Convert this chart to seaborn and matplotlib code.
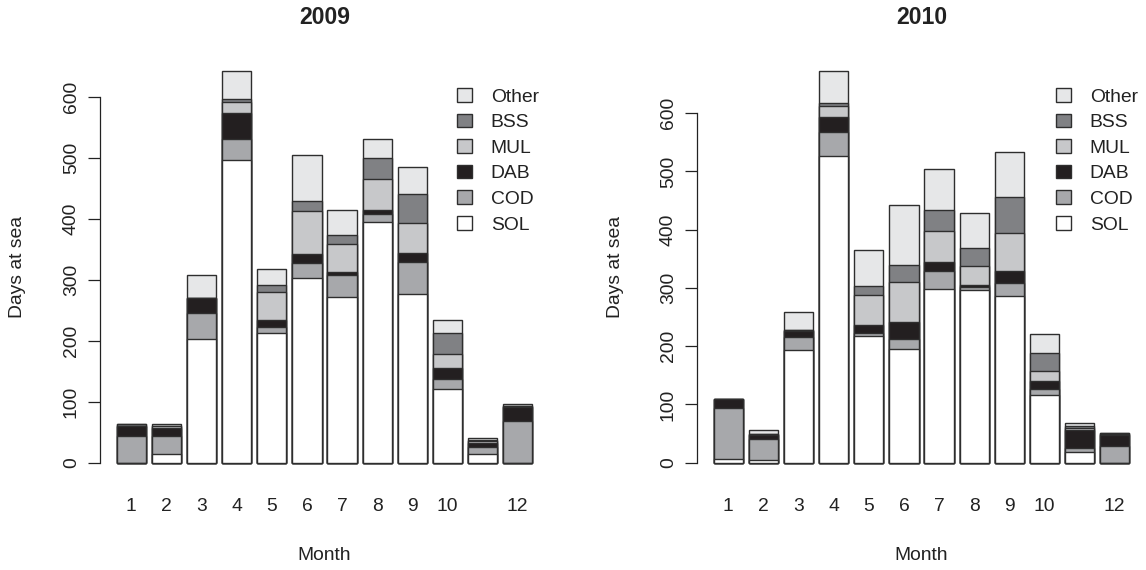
import matplotlib
matplotlib.use("Agg")
import matplotlib.pyplot as plt
from matplotlib.patches import Patch
import numpy as np
import pandas as pd
import seaborn as sns

# ---------------- data ----------------
months = [1, 2, 3, 4, 5, 6, 7, 8, 9, 10, 11, 12]
month_labels = ["1", "2", "3", "4", "5", "6", "7", "8", "9", "10", "", "12"]
species = ["SOL", "COD", "DAB", "MUL", "BSS", "Other"]

sol_2009 = [0, 14, 203, 496, 213, 303, 271, 395, 277, 121, 14, 0]
cod_2009 = [44, 30, 43, 35, 9, 24, 37, 13, 53, 17, 11, 69]
dab_2009 = [17, 13, 24, 42, 12, 16, 5, 6, 14, 17, 7, 23]
mul_2009 = [0, 3, 0, 19, 46, 70, 45, 51, 49, 23, 4, 1]
bss_2009 = [3, 1, 0, 4, 11, 17, 16, 34, 47, 34, 1, 0]
oth_2009 = [0, 3, 38, 47, 26, 75, 41, 32, 45, 22, 3, 3]

sol_2010 = [7, 4, 194, 527, 217, 196, 298, 297, 287, 116, 19, 0]
cod_2010 = [87, 37, 21, 40, 5, 16, 31, 4, 22, 10, 7, 28]
dab_2010 = [15, 7, 11, 27, 14, 30, 16, 4, 20, 14, 30, 20]
mul_2010 = [0, 2, 2, 19, 52, 69, 53, 33, 66, 18, 4, 1]
bss_2010 = [0, 0, 0, 4, 16, 29, 35, 31, 62, 31, 3, 2]
oth_2010 = [0, 6, 30, 56, 61, 103, 71, 60, 77, 32, 6, 0]

colors = {"SOL": "#ffffff", "COD": "#a7a8ab", "DAB": "#231f20",
          "MUL": "#c7c8ca", "BSS": "#808184", "Other": "#e6e7e8"}
EDGE = "#2e2e2e"

# ---------------- style ----------------
sns.set_style("white")
plt.rcParams['font.family'] = ['Liberation Sans', 'DejaVu Sans']
FS = 13.9
W, H = 1146, 570

fig = plt.figure(figsize=(W / 100, H / 100), dpi=100)


def panel(rect, series, title, leg_x):
    ax = fig.add_axes(rect)
    df = pd.DataFrame({"month": months})
    running = np.zeros(len(months))
    for sp, vals in zip(species, series):
        running = running + np.asarray(vals, dtype=float)
        df[sp] = running
    bw = 1 / 1.2
    for sp in reversed(species):
        sns.barplot(data=df, x="month", y=sp, order=months, color=colors[sp],
                    saturation=1, edgecolor=EDGE, linewidth=1.0, width=bw,
                    errorbar=None, ax=ax)
    top = df["Other"].max()
    ax.set_ylim(-0.04 * top, 1.04 * top)
    gap = 0.04 * 14.2 / 1.2
    ax.set_xlim(-bw / 2 - gap, 11 + bw / 2 + gap)
    for s in ["top", "right", "bottom"]:
        ax.spines[s].set_visible(False)
    ax.spines["left"].set_bounds(0, 600)
    ax.spines["left"].set_color("#222222")
    ax.spines["left"].set_linewidth(0.9)
    ax.set_yticks(range(0, 700, 100))
    ax.set_yticklabels([str(v) for v in range(0, 700, 100)], rotation=90,
                       va="center", fontsize=FS, color="#222222")
    ax.tick_params(axis="y", length=8.5, width=0.9, direction="out", pad=6,
                   color="#222222", left=True)
    ax.set_xticks(range(12))
    ax.set_xticklabels(month_labels, fontsize=FS, color="#222222")
    ax.tick_params(axis="x", length=0, pad=14)
    ax.set_xlabel("Month", fontsize=FS, color="#222222")
    ax.xaxis.set_label_coords(0.5, -76.6 / 423.4)
    ax.xaxis.label.set_va("center")
    ax.set_ylabel("Days at sea", fontsize=FS, color="#222222")
    ax.yaxis.set_label_coords(-82 / 449, 0.5)
    ax.yaxis.label.set_va("center")
    ax.set_title(title, fontsize=16.6, fontweight="bold", color="#222222",
                 y=1 + 37 / 423.4, pad=0, va="center")
    handles = [Patch(facecolor=colors[sp], edgecolor=EDGE, linewidth=1.0, label=sp)
               for sp in reversed(species)]
    ax.legend(handles=handles, loc="upper left",
              bbox_to_anchor=(leg_x / W, 1 - 88 / H), bbox_transform=fig.transFigure,
              frameon=False, fontsize=FS, handlelength=0.8, handleheight=0.7,
              handletextpad=0.95, labelspacing=0.42, borderpad=0, borderaxespad=0)
    for t in ax.get_legend().get_texts():
        t.set_color("#222222")
    return ax


axb = 91.6 / H
axh = 423.4 / H
panel([100 / W, axb, 449 / W, axh],
      [sol_2009, cod_2009, dab_2009, mul_2009, bss_2009, oth_2009], "2009", 457)
panel([697 / W, axb, 449 / W, axh],
      [sol_2010, cod_2010, dab_2010, mul_2010, bss_2010, oth_2010], "2010", 1056)

fig.savefig("out.png", dpi=100)
